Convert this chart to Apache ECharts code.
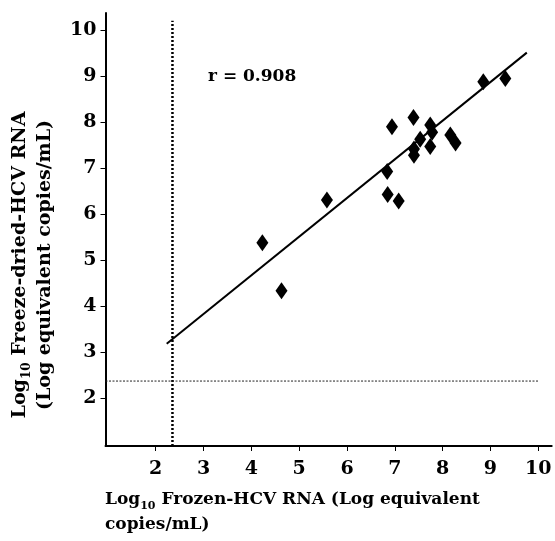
<!DOCTYPE html>
<html>
<head>
<meta charset="utf-8">
<script src="https://cdn.jsdelivr.net/npm/echarts@6/dist/echarts.min.js"></script>
<style>html,body{margin:0;padding:0;background:#fff}#c{width:555px;height:541px}</style>
</head>
<body>
<div id="c"></div>
<script>
// Frozen (x) vs freeze-dried (y) HCV RNA, log10 copies/mL
const frozenX = [4.23, 4.63, 5.58, 6.84, 6.85, 7.08, 6.94, 7.39, 7.40, 7.40, 7.53, 7.74, 7.78, 7.74, 8.16, 8.27, 8.85, 9.31];
const freezeDriedY = [5.38, 4.34, 6.31, 6.93, 6.43, 6.29, 7.90, 8.10, 7.42, 7.28, 7.63, 7.94, 7.78, 7.47, 7.72, 7.55, 8.88, 8.95];
// regression line end points [x, y]
const regressionLine = [[2.23, 3.19], [9.76, 9.51]];
// detection-limit cut-offs
const cutoffX = 2.35;
const cutoffY = 2.38;
const cutoffXSpan = [0.97, 10.2];
const cutoffYSpan = [0.95, 10.0];
const tickValues = [2, 3, 4, 5, 6, 7, 8, 9, 10];
const rLabel = 'r = 0.908';

const FONT = '"DejaVu Serif", "Liberation Serif", serif';
const chart = echarts.init(document.getElementById('c'));
const points = frozenX.map((x, i) => [x, freezeDriedY[i]]);

chart.setOption({
  animation: false,
  backgroundColor: '#fff',
  grid: { left: 105.5, right: 3.3, top: 13, bottom: 95, containLabel: false },
  xAxis: {
    type: 'value', min: 0.95, max: 10.28,
    splitLine: { show: false },
    axisLine: { show: true, onZero: false, lineStyle: { color: '#000', width: 2 } },
    axisTick: { show: true, customValues: tickValues, length: 5, lineStyle: { color: '#000', width: 1 } },
    axisLabel: { customValues: tickValues, color: '#000', fontFamily: FONT, fontWeight: 'bold', fontSize: 19, margin: 14 }
  },
  yAxis: {
    type: 'value', min: 0.97, max: 10.37,
    splitLine: { show: false },
    axisLine: { show: true, onZero: false, lineStyle: { color: '#000', width: 2 } },
    axisTick: { show: true, customValues: tickValues, length: 5, lineStyle: { color: '#000', width: 1 } },
    axisLabel: { customValues: tickValues, color: '#000', fontFamily: FONT, fontWeight: 'bold', fontSize: 19, margin: 9 }
  },
  series: [
    {
      type: 'line', data: cutoffXSpan.map(y => [cutoffX, y]), symbol: 'none',
      lineStyle: { color: '#000', width: 2.5, type: [2, 2] }, z: 1
    },
    {
      type: 'line', data: cutoffYSpan.map(x => [x, cutoffY]), symbol: 'none',
      lineStyle: { color: '#222', width: 1, type: [2, 1.5] }, z: 1
    },
    {
      type: 'line', data: regressionLine, symbol: 'none',
      lineStyle: { color: '#000', width: 2 }, z: 2
    },
    {
      type: 'scatter', data: points, symbol: 'diamond', symbolSize: [12, 17],
      itemStyle: { color: '#000', opacity: 1 }, z: 3
    }
  ],
  graphic: [
    {
      type: 'text', x: 208, y: 77,
      style: { text: rLabel, fill: '#000', font: 'bold 17px ' + FONT, align: 'left', verticalAlign: 'middle' }
    },
    {
      type: 'text', x: 105, y: 487,
      style: {
        text: '{b|Log}{s|10}{b| Frozen-HCV RNA (Log equivalent}\n{b|copies/mL)}',
        align: 'left', verticalAlign: 'top', fill: '#000',
        rich: {
          b: { fontFamily: FONT, fontWeight: 'bold', fontSize: 17, lineHeight: 25, fill: '#000' },
          s: { fontFamily: FONT, fontWeight: 'bold', fontSize: 11, lineHeight: 12, verticalAlign: 'bottom', fill: '#000' }
        }
      }
    },
    {
      type: 'text', x: 33, y: 265, rotation: Math.PI / 2,
      style: {
        text: '{b|Log}{s|10}{b| Freeze-dried-HCV RNA}\n{b|(Log equivalent copies/mL)}',
        align: 'center', verticalAlign: 'middle', fill: '#000',
        rich: {
          b: { fontFamily: FONT, fontWeight: 'bold', fontSize: 19, lineHeight: 25, fill: '#000' },
          s: { fontFamily: FONT, fontWeight: 'bold', fontSize: 12, lineHeight: 12, verticalAlign: 'bottom', fill: '#000' }
        }
      }
    }
  ]
});
</script>
</body>
</html>
